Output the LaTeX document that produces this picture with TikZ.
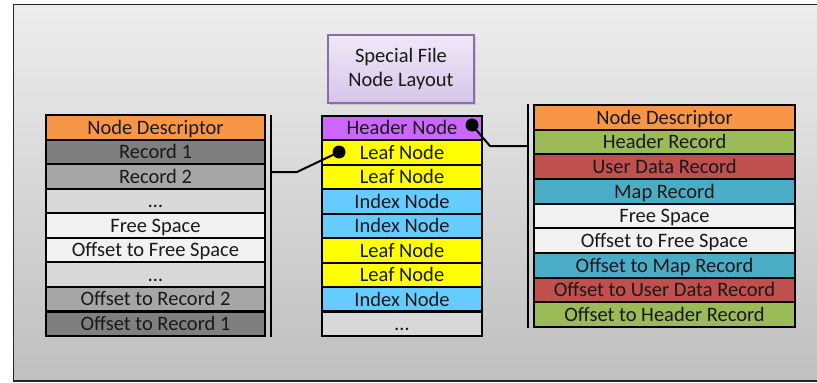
\documentclass[tikz,border=0pt]{standalone}
\usepackage{fontspec}
\setmainfont{Carlito}
\usetikzlibrary{shadows}

\definecolor{descr}{HTML}{F79646}
\definecolor{recdark}{HTML}{7F7F7F}
\definecolor{recmid}{HTML}{A6A6A6}
\definecolor{reclight}{HTML}{D9D9D9}
\definecolor{freesp}{HTML}{F2F2F2}
\definecolor{hdrnode}{HTML}{CC66FF}
\definecolor{leafnode}{HTML}{FFFF00}
\definecolor{idxnode}{HTML}{66CCFF}
\definecolor{hdrrec}{HTML}{9BBB59}
\definecolor{userrec}{HTML}{C0504D}
\definecolor{maprec}{HTML}{4BACC6}
\definecolor{titleedge}{HTML}{8A6BB0}
\definecolor{titletop}{HTML}{EFE8F7}
\definecolor{titlebot}{HTML}{D5C6E9}

\tikzset{
  cell/.style={draw=black, line width=2.1pt, inner sep=0pt, outer sep=0pt,
    text height=15pt, text depth=1.5pt,
    font=\fontsize{20.5}{24}\selectfont, text=black!90},
  bracket/.style={line width=2.8pt, line cap=butt},
  link/.style={line width=2pt},
  pin/.style={circle, fill=black, inner sep=0pt, minimum size=13pt},
}

\begin{document}
\begin{tikzpicture}[x=1pt, y=-1pt]
  \useasboundingbox (0,0) rectangle (817,383);

  % panel with a vertical grey gradient
  \fill[white] (0,0) rectangle (817,383);
  \shade[top color=black!7, bottom color=black!25] (13.5,4.5) rectangle (830,381);
  \draw[line width=1.6pt, black!85] (13.5,4.5) rectangle (830,381);

  % title box
  \node[draw=titleedge, line width=1.4pt, top color=titletop, bottom color=titlebot,
        minimum width=146pt, minimum height=68pt, align=center,
        font=\fontsize{20.5}{24}\selectfont, text=black!90,
        drop shadow={opacity=0.25, shadow xshift=1.5pt, shadow yshift=-1.5pt}]
        (title) at (401,69) {\raisebox{-2pt}{Special File}\\\raisebox{-2pt}{Node Layout}};

  % left column: generic node layout
  \foreach \txt/\col [count=\i] in {
      Node Descriptor/descr, Record 1/recdark, Record 2/recmid, …/reclight,
      Free Space/freesp, Offset to Free Space/freesp, …/reclight,
      Offset to Record 2/recmid, Offset to Record 1/recdark}{
    \node[cell, fill=\col, minimum width=219pt, minimum height=24.56pt]
      (L\i) at (155.5, {115 + (\i-0.5)*24.56}) {\txt};
  }

  % middle column: the special file's nodes
  \foreach \txt/\col [count=\i] in {
      Header Node/hdrnode, Leaf Node/leafnode, Leaf Node/leafnode,
      Index Node/idxnode, Index Node/idxnode, Leaf Node/leafnode,
      Leaf Node/leafnode, Index Node/idxnode, …/reclight}{
    \node[cell, fill=\col, minimum width=160pt, minimum height=24.44pt]
      (M\i) at (402, {116 + (\i-0.5)*24.44}) {\txt};
  }

  % right column: header node layout
  \foreach \txt/\col [count=\i] in {
      Node Descriptor/descr, Header Record/hdrrec, User Data Record/userrec,
      Map Record/maprec, Free Space/freesp, Offset to Free Space/freesp,
      Offset to Map Record/maprec, Offset to User Data Record/userrec,
      Offset to Header Record/hdrrec}{
    \node[cell, fill=\col, minimum width=261pt, minimum height=24.67pt]
      (R\i) at (664.5, {105 + (\i-0.5)*24.67}) {\txt};
  }

  % brackets beside the expanded layouts
  \coordinate (lbTop) at (271,115);
  \coordinate (lbBot) at (271,337);
  \coordinate (lbMid) at (271,172);
  \draw[bracket] (lbTop) -- (lbBot);

  \coordinate (rbTop) at (528,104);
  \coordinate (rbBot) at (528,328);
  \coordinate (rbMid) at (528,146);
  \draw[bracket] (rbTop) -- (rbBot);

  % pins marking the expanded nodes
  \node[pin] (leafpin) at (339,152) {};
  \node[pin] (hdrpin) at (472,125) {};

  % connectors from pins to brackets
  \coordinate (lbend) at (297,172);
  \coordinate (rbend) at (490,146);
  \draw[link] (lbMid) -- (lbend) -- (leafpin.center);
  \draw[link] (hdrpin.center) -- (rbend) -- (rbMid);
\end{tikzpicture}
\end{document}
